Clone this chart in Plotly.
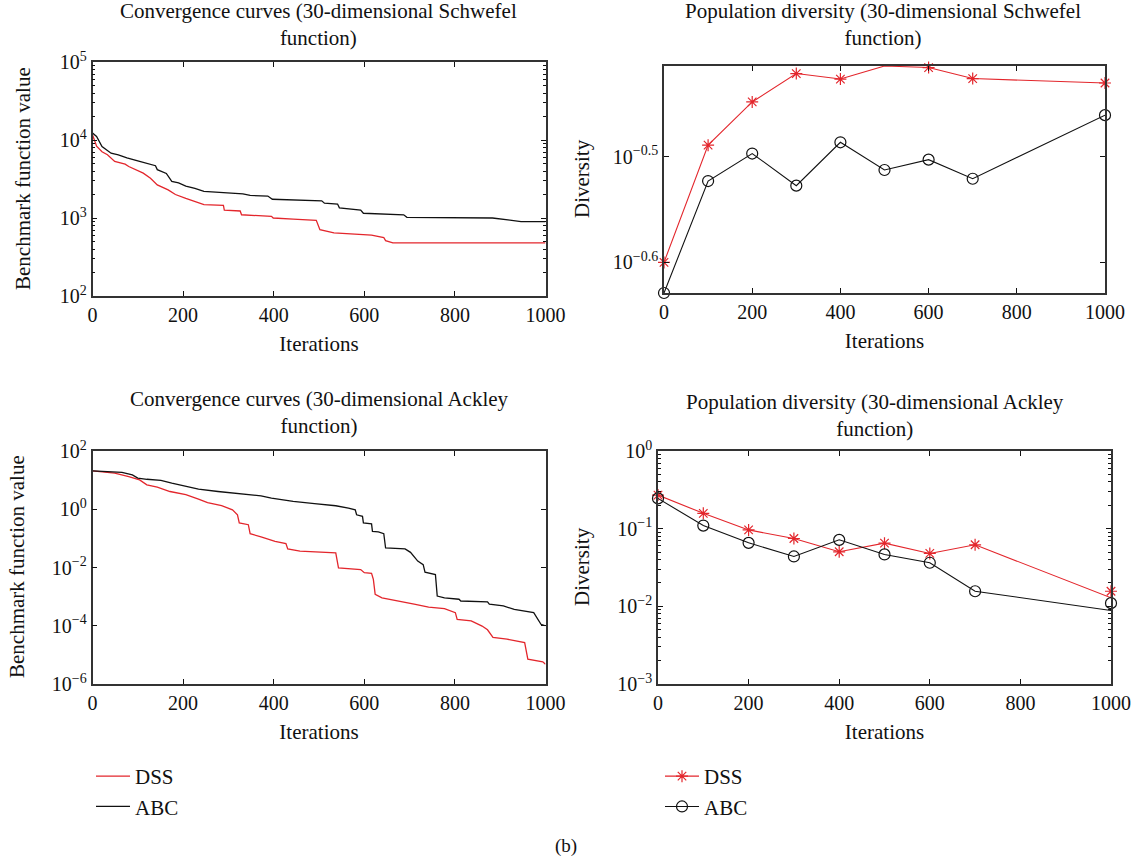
import math
import plotly.graph_objects as go

W, H = 1141, 861
FONT = "Liberation Serif, Times New Roman, serif"
RED = "#e3262c"
BLACK = "#111111"

# ---------------- data ----------------
# Schwefel convergence (iteration, best value)
sch_dss_iter = [0, 9, 21, 33, 49, 72, 80, 96, 112, 128, 143, 167, 183, 206, 226, 246, 289, 291, 326, 329,
                395, 399, 443, 494, 502, 533, 616, 643, 647, 663, 1000]
sch_dss_val = [11700, 8320, 7080, 6460, 5310, 4900, 4570, 4170, 3760, 3240, 2660, 2290, 2000, 1780, 1620, 1480,
               1450, 1260, 1230, 1100, 1050, 1000, 966, 933, 708, 646, 603, 562, 513, 479, 479]
sch_abc_iter = [0, 9, 21, 41, 57, 76, 104, 120, 139, 143, 163, 175, 190, 206, 226, 246, 285, 332, 348, 387,
                397, 506, 512, 541, 545, 592, 598, 687, 694, 883, 946, 1000]
sch_abc_val = [12270, 11120, 8260, 6760, 6460, 5890, 5310, 5010, 4680, 4170, 3720, 2950, 2820, 2570, 2400, 2190,
               2140, 2040, 1950, 1910, 1740, 1660, 1550, 1510, 1350, 1260, 1150, 1100, 1020, 1000, 900, 900]

# Ackley convergence
ack_dss_iter = [0, 49, 80, 104, 120, 143, 171, 206, 234, 254, 285, 309, 320, 324, 344, 348, 372, 403, 427, 431,
                458, 537, 543, 592, 600, 616, 620, 624, 639, 671, 710, 742, 777, 801, 805, 836, 860, 872, 884,
                915, 954, 961, 978, 994, 1000]
ack_dss_val = [20.9, 17.4, 13.2, 10.2, 6.92, 5.75, 4.07, 3.16, 2.24, 1.70, 1.32, 0.955, 0.646, 0.339, 0.295,
               0.145, 0.112, 0.0794, 0.0661, 0.0437, 0.0363, 0.0316, 0.00977, 0.00851, 0.00661, 0.00631,
               0.00389, 0.00120, 0.000912, 0.000708, 0.000550, 0.000437, 0.000389, 0.000282, 0.000166,
               0.000148, 0.0000977, 0.0000724, 0.0000398, 0.0000347, 0.0000263, 0.00000708, 0.00000631,
               0.00000575, 0.00000479]
ack_abc_iter = [0, 65, 88, 100, 120, 151, 175, 206, 234, 277, 324, 372, 395, 443, 490, 537, 565, 580, 583, 596,
                598, 616, 618, 631, 643, 647, 690, 702, 718, 730, 734, 757, 761, 777, 809, 813, 872, 876, 907,
                931, 974, 982, 990, 1000]
ack_abc_val = [20.9, 18.6, 15.1, 11.7, 10.7, 9.77, 7.85, 6.31, 4.90, 4.07, 3.39, 2.88, 2.40, 1.86, 1.55, 1.32,
               1.10, 0.955, 0.646, 0.569, 0.339, 0.316, 0.174, 0.166, 0.145, 0.0468, 0.0437, 0.0331, 0.0166,
               0.0126, 0.00692, 0.00575, 0.00105, 0.000912, 0.000813, 0.000708, 0.000661, 0.000550, 0.000479,
               0.000363, 0.000282, 0.000178, 0.000112, 0.000100]

# Population diversity
div_iter = [0, 100, 200, 300, 400, 500, 600, 700, 1000]
sch_div_dss = [0.2512, 0.3243, 0.3563, 0.3790, 0.3745, 0.3853, 0.3840, 0.3749, 0.3713]
sch_div_abc = [0.2350, 0.2999, 0.3184, 0.2969, 0.3263, 0.3072, 0.3142, 0.3014, 0.3462]
ack_div_dss_markers = [0.2706, 0.1576, 0.0964, 0.0747, 0.0504, 0.0651, 0.0480, 0.0620, 0.01565]
ack_div_dss_line = [0.2706, 0.1576, 0.0964, 0.0747, 0.0504, 0.0651, 0.0480, 0.0620, 0.01286]
ack_div_abc_markers = [0.2453, 0.1096, 0.0657, 0.0439, 0.0718, 0.0466, 0.0364, 0.01565, 0.01099]
ack_div_abc_line = [0.2453, 0.1096, 0.0657, 0.0439, 0.0718, 0.0466, 0.0364, 0.01565, 0.00885]

x_ticks = [0, 200, 400, 600, 800, 1000]

# ---------------- layout helpers ----------------
def dom_x(a, b):
    return [a / W, b / W]

def dom_y(top, bottom):
    return [1 - bottom / H, 1 - top / H]

tickfont = dict(family=FONT, size=20, color=BLACK)
titlefont = dict(family=FONT, size=21, color=BLACK)

def xaxis(domain, anchor):
    return dict(domain=domain, anchor=anchor, range=[0, 1000], tickmode="array", tickvals=x_ticks,
                ticktext=[str(v) for v in x_ticks], ticks="inside", ticklen=5, tickwidth=1,
                tickcolor=BLACK, showline=True, linecolor="#333333", linewidth=1.6, mirror="allticks",
                showgrid=False, zeroline=False, tickfont=tickfont, automargin=False,
                title=dict(text="Iterations", font=titlefont, standoff=12))

def yaxis(domain, anchor, rng, tvals, ttext, minor):
    d = dict(domain=domain, anchor=anchor, type="log", range=rng, tickmode="array", tickvals=tvals,
             ticktext=ttext, ticks="inside", ticklen=5, tickwidth=1, tickcolor=BLACK, showline=True,
             linecolor="#333333", linewidth=1.6, mirror="allticks", showgrid=False, zeroline=False,
             tickfont=tickfont, automargin=False)
    if minor:
        d["minor"] = dict(ticks="inside", ticklen=3, tickcolor=BLACK, dtick="D1", showgrid=False)
    return d

fig = go.Figure()

# top-left: Schwefel convergence
fig.add_trace(go.Scatter(x=sch_dss_iter, y=sch_dss_val, mode="lines", name="DSS",
                         line=dict(color=RED, width=1.3), xaxis="x", yaxis="y", legend="legend"))
fig.add_trace(go.Scatter(x=sch_abc_iter, y=sch_abc_val, mode="lines", name="ABC",
                         line=dict(color=BLACK, width=1.3), xaxis="x", yaxis="y", legend="legend"))
# bottom-left: Ackley convergence
fig.add_trace(go.Scatter(x=ack_dss_iter, y=ack_dss_val, mode="lines", name="DSS", showlegend=False,
                         line=dict(color=RED, width=1.3), xaxis="x3", yaxis="y3"))
fig.add_trace(go.Scatter(x=ack_abc_iter, y=ack_abc_val, mode="lines", name="ABC", showlegend=False,
                         line=dict(color=BLACK, width=1.3), xaxis="x3", yaxis="y3"))

star = dict(symbol="asterisk-open", size=10, color=RED, line=dict(color=RED, width=1.2))
circ = dict(symbol="circle-open", size=11, color=BLACK, line=dict(color=BLACK, width=1.2))

# top-right: Schwefel diversity
fig.add_trace(go.Scatter(x=div_iter, y=sch_div_dss, mode="lines+markers", name="DSS", marker=star,
                         line=dict(color=RED, width=1.1), xaxis="x2", yaxis="y2", legend="legend2",
                         cliponaxis=False))
fig.add_trace(go.Scatter(x=div_iter, y=sch_div_abc, mode="lines+markers", name="ABC", marker=circ,
                         line=dict(color=BLACK, width=1.1), xaxis="x2", yaxis="y2", legend="legend2",
                         cliponaxis=False))
# bottom-right: Ackley diversity (line ends differ from last marker)
fig.add_trace(go.Scatter(x=div_iter, y=ack_div_dss_line, mode="lines", name="DSS", showlegend=False,
                         line=dict(color=RED, width=1.1), xaxis="x4", yaxis="y4", cliponaxis=False))
fig.add_trace(go.Scatter(x=div_iter, y=ack_div_dss_markers, mode="markers", name="DSS", showlegend=False,
                         marker=star, xaxis="x4", yaxis="y4", cliponaxis=False))
fig.add_trace(go.Scatter(x=div_iter, y=ack_div_abc_line, mode="lines", name="ABC", showlegend=False,
                         line=dict(color=BLACK, width=1.1), xaxis="x4", yaxis="y4", cliponaxis=False))
fig.add_trace(go.Scatter(x=div_iter, y=ack_div_abc_markers, mode="markers", name="ABC", showlegend=False,
                         marker=circ, xaxis="x4", yaxis="y4", cliponaxis=False))

sch_div_rng = [math.log10(min(sch_div_abc)), math.log10(max(sch_div_dss))]

legend_common = dict(xanchor="left", yanchor="top", bgcolor="rgba(0,0,0,0)", borderwidth=0,
                     font=dict(family=FONT, size=21, color=BLACK), itemwidth=34, tracegroupgap=0)

fig.update_layout(
    template="none",
    width=W, height=H, margin=dict(l=0, r=0, t=0, b=0, autoexpand=False),
    paper_bgcolor="white", plot_bgcolor="white",
    font=dict(family=FONT, size=20, color=BLACK),
    xaxis=xaxis(dom_x(92.5, 545.5), "y"),
    yaxis=yaxis(dom_y(62, 296), "x", [2, 5], [1e2, 1e3, 1e4, 1e5],
                ["10<sup>2</sup>", "10<sup>3</sup>", "10<sup>4</sup>", "10<sup>5</sup>"], True),
    xaxis2=xaxis(dom_x(664, 1105), "y2"),
    yaxis2=yaxis(dom_y(66, 293), "x2", sch_div_rng, [10 ** -0.6, 10 ** -0.5],
                 ["10<sup>\u22120.6</sup>", "10<sup>\u22120.5</sup>"], False),
    xaxis3=xaxis(dom_x(92.5, 545.5), "y3"),
    yaxis3=yaxis(dom_y(451, 684), "x3", [-6, 2], [1e-6, 1e-4, 1e-2, 1e0, 1e2],
                 ["10<sup>\u22126</sup>", "10<sup>\u22124</sup>", "10<sup>\u22122</sup>", "10<sup>0</sup>",
                  "10<sup>2</sup>"], False),
    xaxis4=xaxis(dom_x(658, 1111), "y4"),
    yaxis4=yaxis(dom_y(451, 684), "x4", [-3, 0], [1e-3, 1e-2, 1e-1, 1e0],
                 ["10<sup>\u22123</sup>", "10<sup>\u22122</sup>", "10<sup>\u22121</sup>", "10<sup>0</sup>"],
                 True),
    legend=dict(x=91 / W, y=1 - 756 / H, **legend_common),
    legend2=dict(x=660 / W, y=1 - 756 / H, **legend_common),
)

# y-axis titles (rotated) and panel titles
ann = []
def ytitle(text, x, yc):
    ann.append(dict(text=text, x=x / W, y=1 - yc / H, xref="paper", yref="paper", showarrow=False,
                    textangle=-90, font=titlefont, xanchor="center", yanchor="middle"))
ytitle("Benchmark function value", 23, 179)
ytitle("Diversity", 582, 179)
ytitle("Benchmark function value", 17, 567)
ytitle("Diversity", 582, 567)

def ptitle(text, xc, yc):
    ann.append(dict(text=text, x=xc / W, y=1 - yc / H, xref="paper", yref="paper", showarrow=False,
                    font=titlefont, xanchor="center", yanchor="middle", align="center"))
ptitle("Convergence curves (30-dimensional Schwefel<br>function)", 318, 25)
ptitle("Population diversity (30-dimensional Schwefel<br>function)", 883, 25)
ptitle("Convergence curves (30-dimensional Ackley<br>function)", 319, 412)
ptitle("Population diversity (30-dimensional Ackley<br>function)", 875, 415)

ann.append(dict(text="(b)", x=566 / W, y=1 - 846 / H, xref="paper", yref="paper", showarrow=False,
                font=dict(family=FONT, size=19, color=BLACK), xanchor="center", yanchor="middle"))
fig.update_layout(annotations=ann)

fig.write_html("out.html")
